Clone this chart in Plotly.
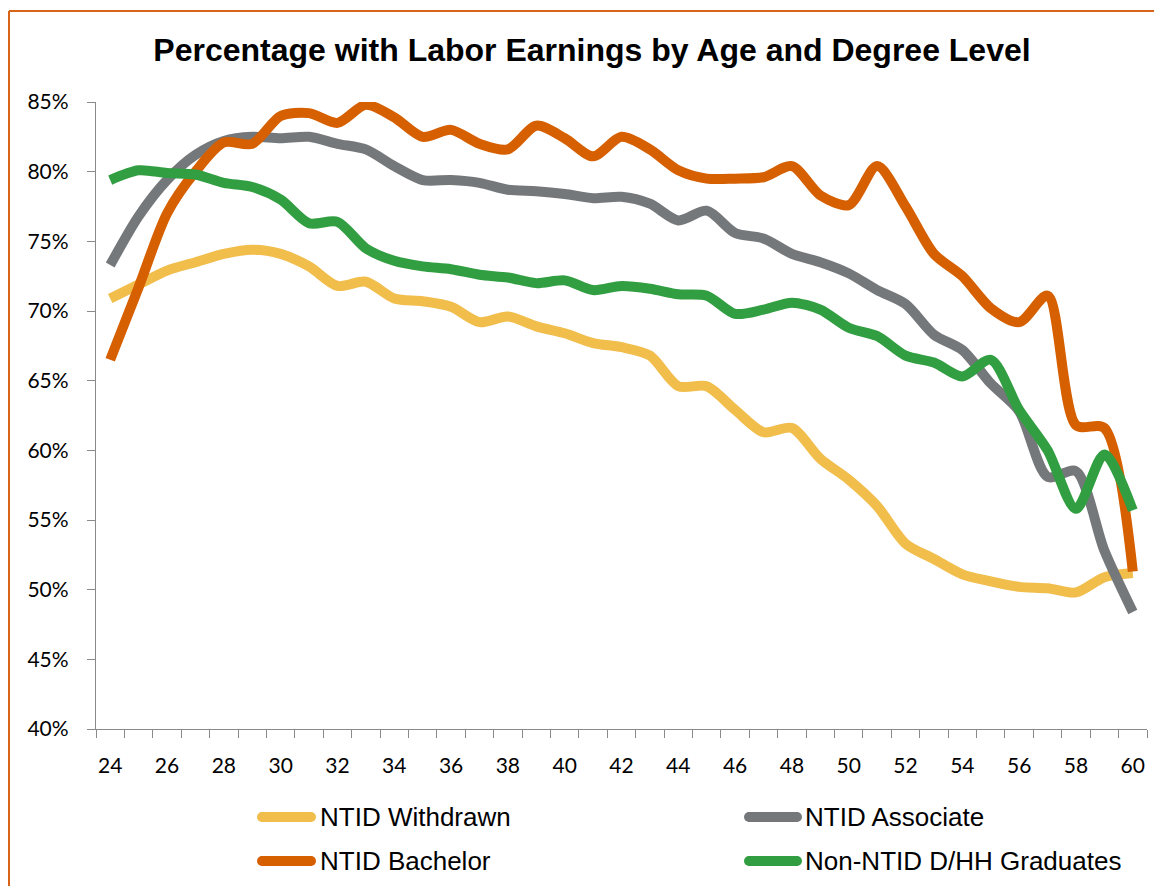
import plotly.graph_objects as go

# ---------------- data ----------------
ages = list(range(24, 61))

withdrawn = [70.9, 71.9, 72.9, 73.5, 74.1, 74.4, 74.1, 73.2, 71.8, 72.1,
             70.9, 70.7, 70.3, 69.2, 69.6, 68.9, 68.4, 67.7, 67.4, 66.8,
             64.6, 64.6, 62.9, 61.3, 61.6, 59.4, 57.9, 56.0, 53.3, 52.2,
             51.1, 50.6, 50.2, 50.1, 49.8, 50.9, 51.2]

associate = [73.3, 76.8, 79.4, 81.2, 82.2, 82.5, 82.4, 82.5, 82.0, 81.6,
             80.4, 79.4, 79.4, 79.2, 78.7, 78.6, 78.4, 78.1, 78.2, 77.7,
             76.5, 77.2, 75.6, 75.2, 74.1, 73.5, 72.7, 71.5, 70.5, 68.3,
             67.2, 64.8, 62.8, 58.1, 58.5, 52.8, 48.4]

bachelor = [66.5, 71.7, 77.0, 80.0, 82.1, 82.0, 84.0, 84.2, 83.5, 84.8,
            83.9, 82.5, 83.0, 82.0, 81.6, 83.3, 82.4, 81.1, 82.5, 81.6,
            80.1, 79.5, 79.5, 79.6, 80.4, 78.3, 77.6, 80.4, 77.5, 74.1,
            72.5, 70.2, 69.2, 71.1, 61.8, 61.6, 51.3]

non_ntid = [79.4, 80.1, 79.9, 79.8, 79.2, 78.9, 78.0, 76.3, 76.4, 74.5,
            73.6, 73.2, 73.0, 72.6, 72.4, 72.0, 72.2, 71.5, 71.8, 71.6,
            71.2, 71.1, 69.8, 70.1, 70.6, 70.1, 68.8, 68.2, 66.8, 66.3,
            65.3, 66.5, 62.9, 60.0, 55.8, 59.7, 55.7]

series_names = ["NTID Withdrawn", "NTID Associate", "NTID Bachelor", "Non-NTID D/HH Graduates"]
series_values = [withdrawn, associate, bachelor, non_ntid]
series_colors = ["#F1BD4B", "#75787B", "#D65F00", "#329E42"]

x_tick_labels = [str(a) for a in range(24, 61, 2)]
y_ticks = list(range(40, 86, 5))

title_text = "Percentage with Labor Earnings by Age and Degree Level"

# ---------------- layout geometry ----------------
# the page body adds an 8px offset; screen coords = figure coords + 8
OFF = 8
W, H = 1163 - 2 * OFF, 895 - 2 * OFF
PLOT_L, PLOT_R, PLOT_T, PLOT_B = 96, 1147, 102, 729   # screen pixels
L = PLOT_L - OFF
T = PLOT_T - OFF
R = W - (PLOT_R - OFF)
B = H - (PLOT_B - OFF)
PW, PH = PLOT_R - PLOT_L, PLOT_B - PLOT_T


def px_x(sx):
    return (sx - PLOT_L) / PW


def px_y(sy):
    return (PLOT_B - sy) / PH


fig = go.Figure()
for name, vals, col in zip(series_names, series_values, series_colors):
    fig.add_trace(go.Scatter(
        x=ages, y=vals, name=name, mode="lines",
        line=dict(color=col, width=10, shape="spline", smoothing=0.8),
        showlegend=False,
    ))

axis_col = "#8a8a8a"
tick_font = dict(family="Lato", size=21, color="#000000")

fig.update_xaxes(
    range=[23.5, 60.5],
    tickmode="array",
    tickvals=[int(t) for t in x_tick_labels],
    ticktext=x_tick_labels,
    ticks="",
    showline=True, linecolor=axis_col, linewidth=1.3,
    showgrid=False, zeroline=False,
    tickfont=tick_font,
    ticklabelstandoff=18,
    minor=dict(ticks="outside", ticklen=8, tickcolor=axis_col, tickwidth=1.3,
               tick0=23.5, dtick=1, showgrid=False),
)
fig.update_yaxes(
    range=[40, 85],
    tickmode="array",
    tickvals=y_ticks,
    ticktext=[f"{v}%" for v in y_ticks],
    ticks="outside", ticklen=8, tickcolor=axis_col, tickwidth=1.3,
    showline=True, linecolor=axis_col, linewidth=1.3,
    showgrid=False, zeroline=False,
    tickfont=tick_font,
    ticklabelstandoff=14,
)

frame_col = "#D86418"
shapes = []
# orange frame: top edge and left edge, kept inside the canvas
shapes.append(dict(type="line", xref="paper", yref="paper",
                   x0=px_x(9), x1=px_x(1154), y0=px_y(11), y1=px_y(11),
                   line=dict(color=frame_col, width=2), layer="below"))
shapes.append(dict(type="line", xref="paper", yref="paper",
                   x0=px_x(9), x1=px_x(9), y0=px_y(11), y1=px_y(886),
                   line=dict(color=frame_col, width=2), layer="below"))

annotations = []
# custom legend (2 x 2)
legend_cols = [(257, 316, 318), (744, 802, 803)]
legend_rows = [817, 861]
for i, (name, col) in enumerate(zip(series_names, series_colors)):
    r, c = divmod(i, 2)
    x0, x1, xt = legend_cols[c]
    yy = legend_rows[r]
    shapes.append(dict(type="line", xref="paper", yref="paper",
                       x0=px_x(x0 + 4), x1=px_x(x1 - 4), y0=px_y(yy), y1=px_y(yy),
                       line=dict(color=col, width=10)))
    for cx in (x0 + 5, x1 - 5):
        shapes.append(dict(type="circle", xref="paper", yref="paper",
                           x0=px_x(cx - 5), x1=px_x(cx + 5),
                           y0=px_y(yy + 5), y1=px_y(yy - 5),
                           fillcolor=col, line=dict(width=0)))
    annotations.append(dict(xref="paper", yref="paper", x=px_x(xt), y=px_y(yy),
                            xanchor="left", yanchor="middle", showarrow=False,
                            text=name,
                            font=dict(family="Liberation Sans", size=26, color="#000000")))

fig.update_layout(
    width=W, height=H,
    margin=dict(l=L, r=R, t=T, b=B),
    paper_bgcolor="white", plot_bgcolor="white",
    title=dict(text=title_text, xref="container", yref="container",
               x=(592 - OFF) / W, xanchor="center", y=1 - (50 - OFF) / H, yanchor="middle",
               font=dict(family="Liberation Sans", size=32, color="#000000", weight=700)),
    shapes=shapes,
    annotations=annotations,
    showlegend=False,
)

fig.write_html("out.html")
